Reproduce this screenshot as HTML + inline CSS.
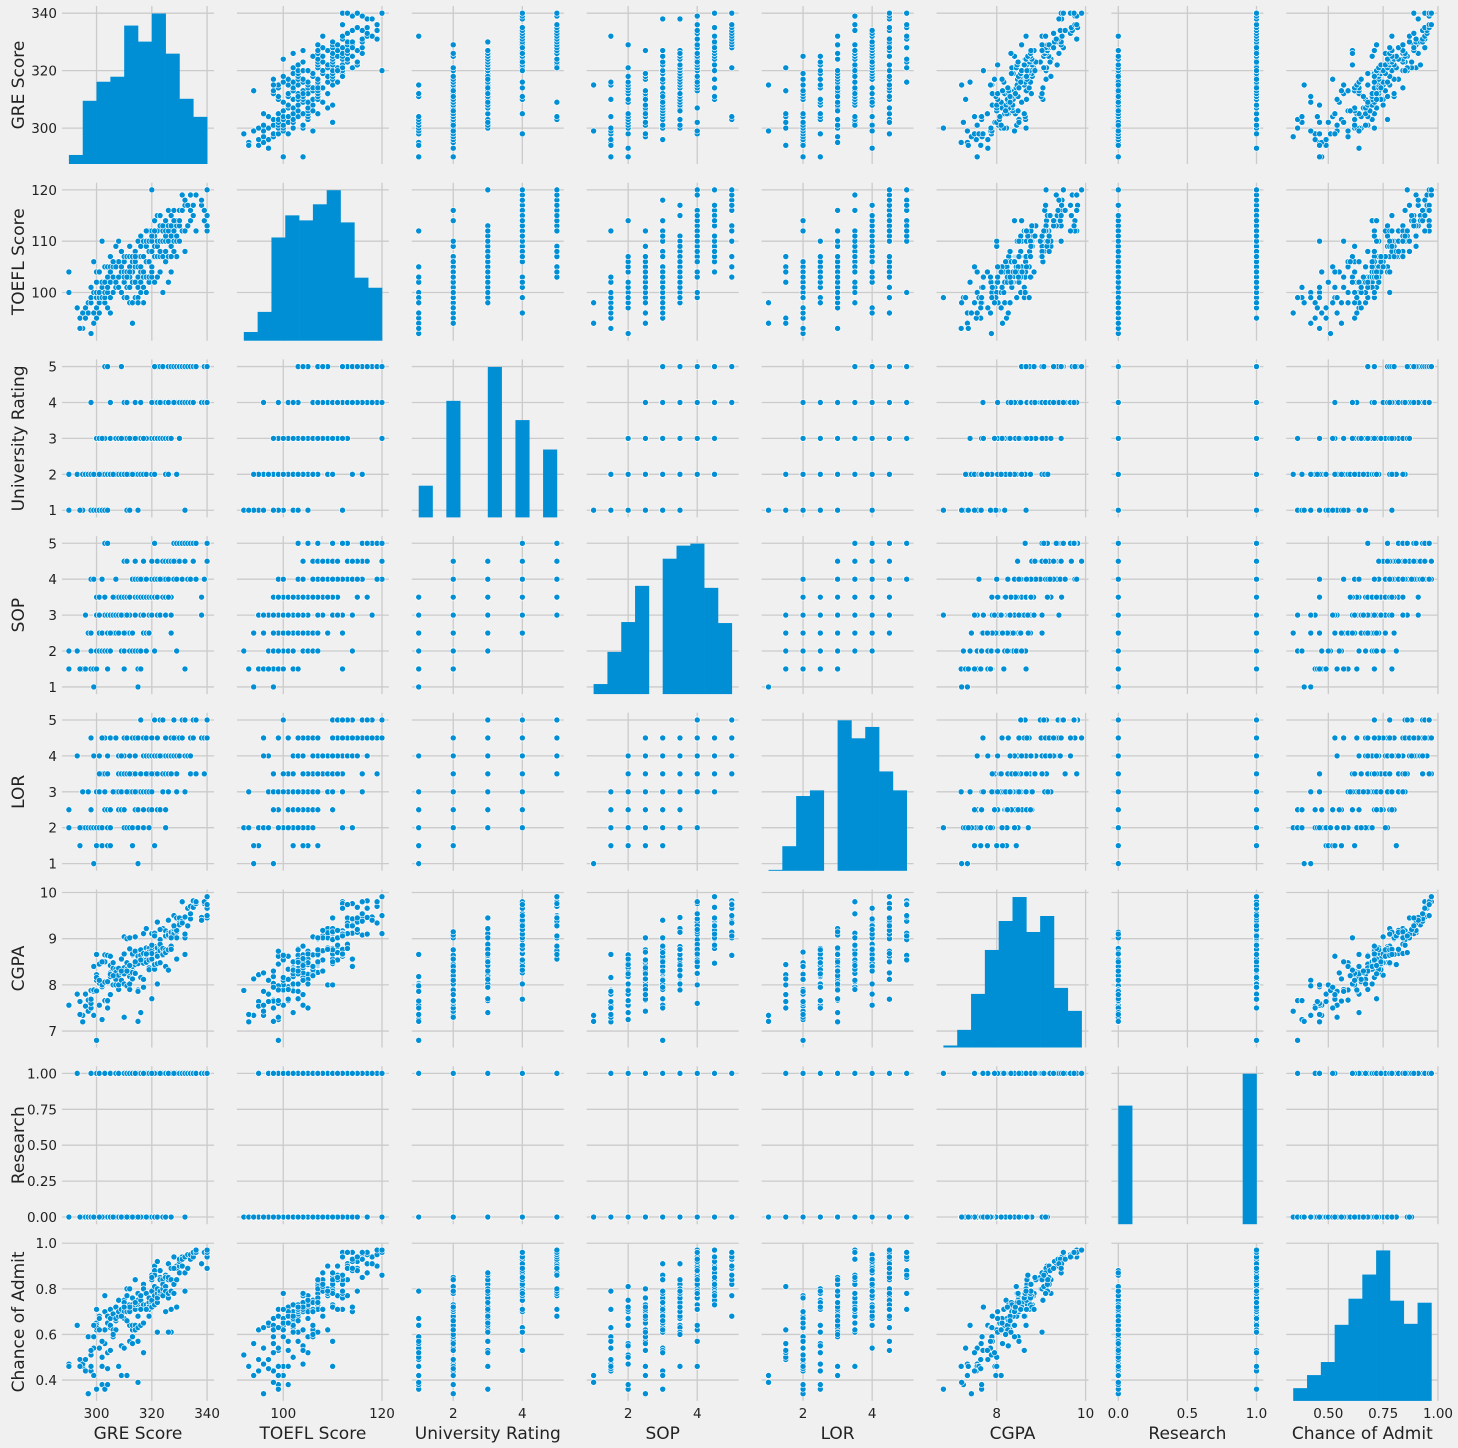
<!DOCTYPE html>
<html><head><meta charset="utf-8">
<style>
html,body{margin:0;padding:0;background:#f0f0f0;}
svg{display:block;font-family:"DejaVu Sans","Liberation Sans",sans-serif;}
</style></head>
<body>
<svg id="chart" width="1458" height="1448" viewBox="0 0 1458 1448" xmlns="http://www.w3.org/2000/svg">
<rect x="0" y="0" width="1458" height="1448" fill="#f0f0f0"/>
</svg>
<script>
const variables = ["GRE Score","TOEFL Score","University Rating","SOP","LOR","CGPA","Research","Chance of Admit"];
const tickValues = [[300,320,340],[100,110,120],[1,2,3,4,5],[1,2,3,4,5],[1,2,3,4,5],[7,8,9,10],[0,0.25,0.5,0.75,1],[0.4,0.6,0.8,1.0]];
const yTickLabels = [["300","320","340"],["100","110","120"],["1","2","3","4","5"],["1","2","3","4","5"],["1","2","3","4","5"],["7","8","9","10"],["0.00","0.25","0.50","0.75","1.00"],["0.4","0.6","0.8","1.0"]];
const xTickValues = [[300,320,340],[100,120],[2,4],[2,4],[2,4],[8,10],[0,0.5,1.0],[0.5,0.75,1.0]];
const xTickLabels = [["300","320","340"],["100","120"],["2","4"],["2","4"],["2","4"],["8","10"],["0.0","0.5","1.0"],["0.50","0.75","1.00"]];
const histGRE = [27,189,246,261,414,366,450,330,195,141];
const histTOEFL = [26,86,308,374,359,407,449,353,188,158];
const histUR = [28,0,103,0,0,133,0,86,0,60];
const histSOP = [30,126,215,323,0,404,443,449,317,212];
const histLOR = [3,78,237,255,0,477,420,456,315,255];
const histCGPA = [6,53,161,293,380,452,347,395,179,110];
const histResearch = [357,0,0,0,0,0,0,0,0,453];
const histChance = [38,77,116,227,305,377,449,299,230,293];
// rows: GRE, TOEFL, UR, SOP, LOR, CGPA, Research, Chance
const rows = [
[290,104,2,2,2.5,7.56,0,0.47],[290,100,1,1.5,2,7.56,0,0.46],[293,97,2,2,4,7.8,1,0.64],[294,95,1,1.5,1.5,7.64,0,0.49],
[295,93,1,1.5,3,7.2,0,0.46],[295,96,2,1.5,2,7.34,0,0.47],[296,95,2,3,2,7.54,0,0.44],[296,97,2,1.5,2,7.8,0,0.49],
[297,96,2,2.5,2,7.43,0,0.34],[297,98,2,2.5,3,7.67,0,0.59],[298,92,1,2,2,7.88,0,0.51],[298,98,2,1.5,2.5,7.5,1,0.44],
[298,99,2,4,2,7.6,0,0.46],[299,94,1,1,1,7.34,0,0.42],[299,96,2,1.5,2,7.86,0,0.54],[299,100,1,1.5,2,7.89,0,0.59],
[300,95,2,3,1.5,8.22,1,0.62],[300,97,2,3,3,8.1,1,0.65],[300,99,1,3,2,6.8,1,0.36],[300,100,3,2,3,8.66,1,0.64],
[300,102,2,1.5,2,7.87,0,0.63],[300,104,3,3.5,3,8.16,0,0.71],[301,96,1,3,4,7.56,0,0.54],[301,98,1,2,3,8.03,1,0.67],
[301,99,2,2.5,2,8.45,1,0.68],[301,100,3,3.5,3,8.04,0,0.67],[302,99,1,2,2,7.25,0,0.38],[302,101,2,2.5,3.5,7.96,0,0.46],
[302,102,1,2,1.5,8,0,0.5],[303,98,1,2,2.5,7.65,0,0.56],[303,99,3,2,2.5,7.66,0,0.36],[303,100,2,3,3.5,8.06,1,0.62],
[303,102,3,3.5,3,8.5,0,0.7],[303,105,5,5,4.5,8.65,0,0.77],[304,97,2,1.5,2,7.64,0,0.45],[304,100,2,2.5,3.5,8.07,0,0.65],
[304,101,2,2,2.5,7.66,0,0.38],[304,103,5,5,4,8.64,0,0.68],[304,105,1,3,1.5,7.5,0,0.52],[305,96,4,3,4.5,8.26,0,0.63],
[305,99,3,3,4.5,8.62,1,0.53],[305,102,2,2,2.5,8.18,0,0.64],[305,105,2,3,2,8.23,0,0.67],[305,107,2,2.5,2.5,8.42,0,0.71],
[306,100,2,3,3,8,0,0.62],[306,103,2,2.5,3,8.36,0,0.69],[306,105,2,2.5,3,8.48,0,0.59],[307,101,3,3.5,3,8.34,1,0.72],
[307,102,3,3,3,8.27,0,0.66],[307,105,2,2.5,4.5,8.12,1,0.67],[307,109,3,4,3,8,1,0.62],[308,101,2,3,3.5,7.9,0,0.68],
[308,103,2,2.5,4,8.36,1,0.7],[308,106,3,3.5,2.5,8.21,1,0.75],[308,110,3,3.5,3,8,1,0.46],[309,100,2,3,3,8.1,0,0.42],
[309,104,2,2,2.5,8.26,0,0.55],[309,105,5,3.5,3.5,8.56,0,0.71],[310,99,2,1.5,2,7.3,0,0.54],[310,102,3,3.5,4,8.02,1,0.67],
[310,104,3,2,3.5,8.37,0,0.7],[310,106,4,4.5,4.5,9.04,1,0.75],[310,107,3,3,3.5,8.67,0,0.74],[311,99,1,2.5,3,7.98,0,0.42],
[311,101,2,2.5,3.5,8.34,1,0.7],[311,104,3,3.5,2,8.48,1,0.77],[311,107,4,4.5,4.5,9,1,0.8],[312,98,1,3.5,3,8.18,1,0.64],
[312,101,2,2.5,2,7.9,0,0.57],[312,103,3,3.5,4,8.78,0,0.71],[312,105,2,2,3,8.02,1,0.7],[312,107,3,3,3.5,8.27,1,0.73],
[312,109,2,2.5,4,9.02,0,0.8],[313,98,3,2.5,3.5,8.3,1,0.62],[313,102,3,2,3,8.27,0,0.64],[313,104,3,4,4.5,8.65,0,0.73],
[313,106,2,2.5,2,8.4,0,0.59],[313,107,3,4,3.5,8.67,0,0.76],[314,99,4,3.5,4.5,8.73,1,0.71],[314,102,2,2,2.5,8.24,0,0.64],
[314,105,3,3.5,3,8.44,1,0.73],[314,106,2,4,3.5,8.25,0,0.62],[314,108,4,4.5,4,9.04,1,0.84],[315,99,2,3.5,3,7.89,0,0.63],
[315,101,3,3.5,4.5,8.62,0,0.68],[315,103,1,1.5,2,7.86,0,0.57],[315,105,3,2,2.5,8.48,0,0.75],[315,107,2,4,3,8.5,1,0.73],
[315,110,2,3.5,3,8.46,1,0.78],[316,100,2,1.5,3,8.16,1,0.71],[316,102,3,2,3,7.4,0,0.64],[316,104,3,3.5,3,8.57,0,0.72],
[316,105,3,3,3.5,8.73,0,0.75],[316,107,2,3.5,3.5,8.64,1,0.71],[316,109,3,3.5,3,8.76,0,0.77],[317,101,3,3,2,8.12,0,0.65],
[317,103,3,2.5,3,8.54,1,0.73],[317,104,2,4.5,4,8.47,0,0.73],[317,107,3,3.5,3,8.68,1,0.82],[317,110,3,4,4.5,9.11,1,0.8],
[318,100,2,2.5,3.5,8.54,1,0.71],[318,103,3,4,4.5,8.49,1,0.71],[318,106,3,2,3,8.65,0,0.71],[318,109,3,3.5,4,9.22,1,0.78],
[318,110,3,4,3,8.8,0,0.73],[319,102,3,2.5,3,8.37,0,0.68],[319,103,3,2.5,4,8.76,1,0.73],[319,106,3,3.5,2.5,8.33,1,0.74],
[319,108,3,3,3.5,8.54,1,0.71],[319,110,3,3,2.5,8.79,0,0.72],[319,112,3,2.5,2,8.71,1,0.76],[320,103,3,3,3,7.7,0,0.72],
[320,104,3,3,2.5,8.57,1,0.74],[320,105,3,3,3.5,8.67,1,0.75],[320,108,3,3.5,4,8.74,1,0.79],[320,110,2,3.5,4,8.56,0,0.72],
[320,112,4,3,4.5,8.68,1,0.84],[320,120,3,4,4.5,9.11,0,0.86],[321,102,3,3.5,3.5,8.34,1,0.73],[321,107,2,2,1.5,8.44,0,0.81],
[321,109,4,4,4,9.13,1,0.9],[321,111,3,3.5,4,8.83,1,0.77],[321,114,4,4,5,9.12,0,0.88],[322,103,4,3,2.5,8.02,1,0.61],
[322,107,3,3.5,3.5,8.46,1,0.74],[322,109,5,4.5,3.5,8.8,0,0.78],[322,110,3,3.5,2.5,8.67,1,0.8],[322,112,3,3,4,8.62,1,0.76],
[322,115,5,4,4.5,9.36,1,0.92],[323,104,3,4,4,8.84,1,0.78],[323,107,4,3,2.5,8.48,1,0.78],[323,108,5,4,4,8.74,1,0.79],
[323,110,4,4,5,8.98,1,0.85],[323,113,3,4,4,8.88,1,0.84],[324,100,3,4,5,8.64,1,0.78],[324,107,5,3.5,4,8.66,1,0.8],
[324,110,3,3.5,3,9.22,1,0.84],[324,112,4,4,3.5,8.77,1,0.82],[324,113,4,4.5,4,8.79,0,0.77],[325,106,3,3.5,4,8.4,1,0.7],
[325,108,4,4.5,4,9.06,1,0.81],[325,110,2,3,2.5,8.76,1,0.79],[325,111,3,3,3.5,8.7,0,0.86],[325,112,4,4,4.5,9.17,1,0.85],
[325,114,4,3,2,8.4,0,0.7],[326,107,3,3.5,3.5,8.76,1,0.76],[326,110,3,3.5,3.5,8.76,1,0.78],[326,112,4,4,3.5,9.12,1,0.84],
[326,113,5,4.5,4,9.4,1,0.91],[326,116,2,4.5,3,9.08,1,0.85],[327,104,5,3,3.5,8.84,1,0.71],[327,109,3,3.5,4,8.77,1,0.79],
[327,111,4,3,4,9.02,1,0.84],[327,113,4,4.5,4.5,9.11,1,0.89],[327,115,4,3.5,4,9.14,0,0.79],[328,108,4,4.5,4,9.18,1,0.82],
[328,110,4,5,4,9.14,1,0.82],[328,112,4,4,4.5,9.1,1,0.78],[328,116,5,5,5,9.5,1,0.94],[329,107,4,5,3.5,9.02,1,0.84],
[329,110,2,4,3,9.15,1,0.84],[329,111,4,4.5,4.5,9.18,1,0.9],[329,113,5,5,4.5,9.45,1,0.89],[329,114,2,2,4,8.56,1,0.72],
[330,110,3,4.5,4.5,9.45,1,0.87],[330,113,5,4.5,4,9.34,1,0.9],[330,114,4,4.5,4,9.3,1,0.92],[330,116,5,5,4.5,9.45,1,0.93],
[331,112,5,4,5,9.8,1,0.94],[331,116,5,5,5,9.38,1,0.93],[331,119,4,5,4.5,9.34,1,0.9],[332,108,5,4.5,4,9.02,1,0.87],
[332,112,1,1.5,3,8.66,1,0.79],[332,117,4,4.5,4,9.1,0,0.87],[332,118,5,5,5,9.47,1,0.94],[333,113,5,4,4,9.28,1,0.89],
[333,117,4,5,4,9.66,1,0.95],[334,114,4,4,4,9.43,1,0.93],[334,116,4,4,3.5,9.54,1,0.93],[334,119,5,5,4.5,9.7,1,0.95],
[335,115,4,4.5,4.5,9.68,1,0.94],[335,117,5,5,5,9.82,1,0.96],[336,112,5,5,5,9.76,1,0.96],[336,119,5,4,3.5,9.8,1,0.97],
[338,117,4,3.5,4.5,9.46,1,0.91],[338,118,4,3,4.5,9.4,1,0.91],[339,114,5,4,4.5,9.76,1,0.96],[339,116,4,4,3.5,9.8,1,0.96],
[340,112,4,5,4.5,9.66,1,0.94],[340,113,4,5,5,9.74,1,0.96],[340,115,5,4.5,4.5,9.45,1,0.89],[340,120,4,5,5,9.5,1,0.96],
[340,120,5,4.5,4.5,9.91,1,0.97],[298,101,4,2.5,4.5,7.69,1,0.53],[312,104,3,3.5,3.5,8.42,0,0.72],[318,112,3,4,3.5,8.67,0,0.71],
[316,111,4,4,5,8.54,0,0.71],[327,107,3,2.5,3.5,9.02,1,0.61],[321,112,5,5,5,9.06,1,0.86],[310,103,2,2.5,2.5,8.24,0,0.72],
[305,104,2,2.5,1.5,7.79,0,0.53],[294,93,1,1.5,2,7.36,0,0.46],[299,106,2,4,4,8.4,0,0.64],[302,110,3,4,4.5,8.5,0,0.57],
[313,94,2,2.5,1.5,8.13,0,0.56],[317,98,3,3,2.5,7.95,1,0.52],[326,102,4,3.5,3,8.32,1,0.61],[315,98,1,1,1,7.21,0,0.39],
[320,111,4,4.5,3.5,8.86,1,0.85],[309,108,3,3,4,8.3,0,0.68],[306,106,2,3.5,3,8.2,0,0.6],[323,115,4,4,4,9.2,1,0.88],
[314,107,3,3,3,8.5,1,0.74],[301,104,2,3,3.5,8.1,0,0.62],[328,114,4,4.5,4.5,9.28,1,0.89],[311,103,2,3,3,8.3,0,0.66]
];
const hists = [histGRE,histTOEFL,histUR,histSOP,histLOR,histCGPA,histResearch,histChance];

const NS = "http://www.w3.org/2000/svg";
const svg = document.getElementById("chart");
const N = variables.length;
const LEFT0 = 62, PITCHX = 174.9, W = 152;
const TOP0 = 6, PITCHY = 176.7, H = 158;
const BLUE = "#008fd5", GRID = "#cbcbcb", TXT = "#222";

function mk(tag, attrs, parent){
  const e = document.createElementNS(NS, tag);
  for (const k in attrs) e.setAttribute(k, attrs[k]);
  (parent||svg).appendChild(e);
  return e;
}
const mins = [], maxs = [];
for (let v=0; v<N; v++){
  let lo=Infinity, hi=-Infinity;
  rows.forEach(r=>{ if(r[v]<lo) lo=r[v]; if(r[v]>hi) hi=r[v]; });
  mins.push(lo); maxs.push(hi);
}
function dom(v){ const p=(maxs[v]-mins[v])*0.05; return [mins[v]-p, maxs[v]+p]; }
function xScale(c, val){ const d=dom(c); return LEFT0+c*PITCHX + (val-d[0])/(d[1]-d[0])*W; }
function yScale(r, val){ const d=dom(r); return TOP0+r*PITCHY+H - (val-d[0])/(d[1]-d[0])*H; }

for (let r=0; r<N; r++){
  for (let c=0; c<N; c++){
    const g = mk("g", {});
    
    
    const x0 = LEFT0+c*PITCHX, y0 = TOP0+r*PITCHY;
    tickValues[r].forEach(t=>{
      const y = yScale(r,t);
      if (y < y0-0.5 || y > y0+H+0.5) return;
      const l = mk("line",{x1:x0,x2:x0+W,y1:y,y2:y,stroke:GRID,"stroke-width":1.3},g);
      
      
    });
    xTickValues[c].forEach(t=>{
      const x = xScale(c,t);
      if (x < x0-0.5 || x > x0+W+0.5) return;
      const l = mk("line",{x1:x,x2:x,y1:y0,y2:y0+H,stroke:GRID,"stroke-width":1.3},g);
      
      
    });
    if (r===c){
      const counts = hists[r];
      const mx = Math.max(...counts)*1.05;
      const bw = (maxs[c]-mins[c])/counts.length;
      counts.forEach((n,i)=>{
        if (n<=0) return;
        const xa = xScale(c, mins[c]+i*bw), xb = xScale(c, mins[c]+(i+1)*bw);
        const hh = n/mx*H;
        const b = mk("rect",{x:xa,y:y0+H-hh,width:xb-xa+0.3,height:hh,fill:BLUE},g);
        
        
      });
    } else {
      rows.forEach(row=>{
        const p = mk("circle",{cx:xScale(c,row[c]),cy:yScale(r,row[r]),r:3,fill:BLUE,stroke:"#ffffff","stroke-width":0.6},g);
        
        
      });
    }
  }
  tickValues[r].forEach((t,i)=>{
    const tx = mk("text",{x:57,y:yScale(r,t)+5,"text-anchor":"end","font-size":13.5,fill:TXT});
    tx.textContent = yTickLabels[r][i];
    
    
  });
  const cy = TOP0+r*PITCHY+H/2;
  const yl = mk("text",{x:0,y:0,transform:"translate(24,"+cy+") rotate(-90)","text-anchor":"middle","font-size":17,fill:TXT});
  yl.textContent = variables[r];
  
  
}
for (let c=0; c<N; c++){
  xTickValues[c].forEach((t,i)=>{
    const tx = mk("text",{x:xScale(c,t),y:1418,"text-anchor":"middle","font-size":13.5,fill:TXT});
    tx.textContent = xTickLabels[c][i];
    
    
  });
  const xl = mk("text",{x:LEFT0+c*PITCHX+W/2,y:1439,"text-anchor":"middle","font-size":17,fill:TXT});
  xl.textContent = variables[c];
  
  
}
</script>
</body></html>
